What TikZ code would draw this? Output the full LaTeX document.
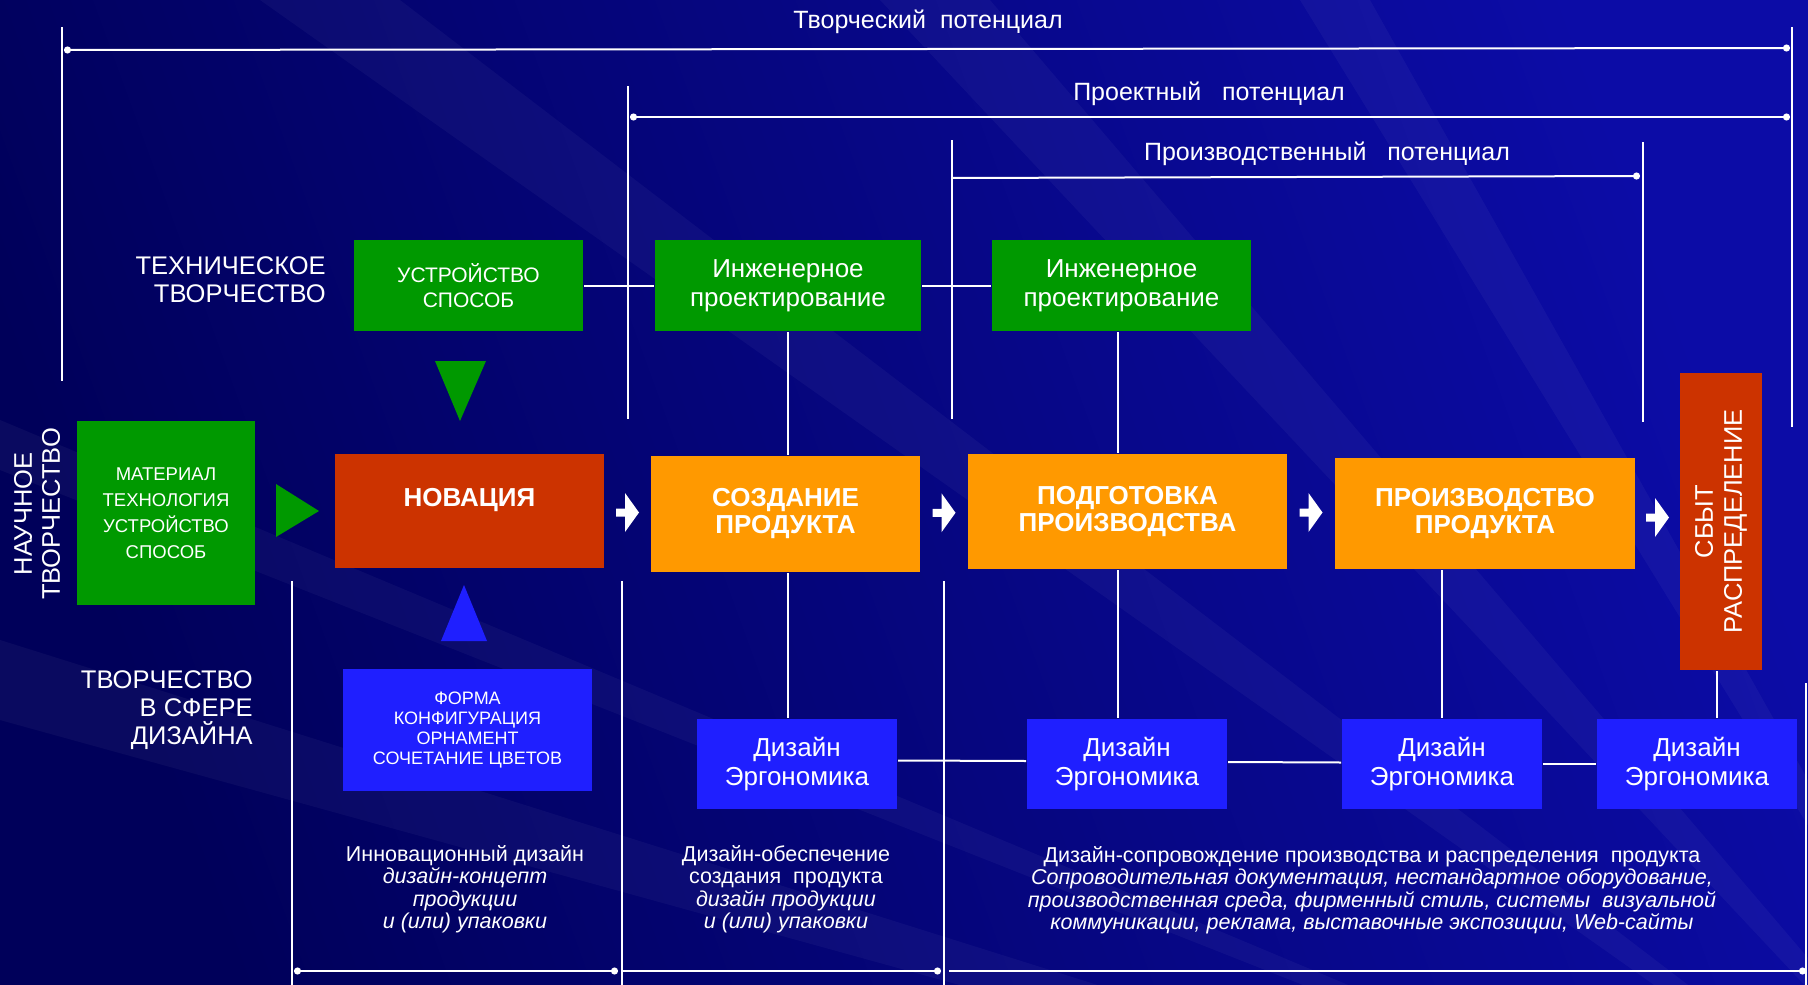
\documentclass[tikz,border=0pt]{standalone}
\usepackage{fontspec}
\setmainfont{Liberation Sans}
\usetikzlibrary{arrows.meta, calc}
\definecolor{cbgdark}{HTML}{00005A}
\definecolor{cbglight}{HTML}{0C0CA6}
\definecolor{cgreen}{HTML}{009900}
\definecolor{cred}{HTML}{CC3300}
\definecolor{corange}{HTML}{FF9900}
\definecolor{cblue}{HTML}{1F1FFF}
\tikzset{
  every picture/.style={line width=2pt},
  box/.style={fill=#1, text=white, align=center, inner sep=2pt},
  box/.default=cgreen,
  stage/.style={box=corange, font=\fontsize{26}{27}\selectfont\bfseries},
  designbox/.style={box=cblue, font=\fontsize{26}{29}\selectfont, minimum width=200pt, minimum height=90pt},
  label/.style={text=white, font=\fontsize{25.5}{28}\selectfont},
  note/.style={text=white, align=center, font=\fontsize{21.5}{22.5}\selectfont},
  link/.style={draw=white, line width=2pt},
  dimline/.style={draw=white, line width=2pt, {Circle[length=7pt]}-{Circle[length=7pt]}},
  dimend/.style={draw=white, line width=2pt, -{Circle[length=7pt]}},
  flowarrow/.pic={\fill[white] (-11.5,-4) -- (-2.5,-4) -- (-2.5,-19.5) -- (11.5,0)
      -- (-2.5,19.5) -- (-2.5,4) -- (-11.5,4) -- cycle;},
}
\begin{document}
\begin{tikzpicture}[x=1pt, y=-1pt]
  \useasboundingbox (0,0) rectangle (1808,985);
  % background
  \begin{scope}
    \clip (0,0) rectangle (1808,985);
    \shade[left color=cbgdark, right color=cbglight, shading angle=110] (0,0) rectangle (1808,985);
    \foreach \a/\b in {{0,640}/{0,720}, {0,420}/{0,470}, {260,0}/{400,0}, {880,0}/{990,0}, {1300,0}/{1370,0}}
      \fill[white, opacity=0.04] (2100,1300) -- (\a) -- (\b) -- cycle;
  \end{scope}

  % potential brackets
  \node[label, font=\fontsize{25}{28}\selectfont] (tvorpot) at (928,22) {Творческий\ \ потенциал};
  \node[label, font=\fontsize{25}{28}\selectfont] (proektpot) at (1209,94) {Проектный\ \ \ потенциал};
  \node[label, font=\fontsize{25}{28}\selectfont] (proizvpot) at (1327,154) {Производственный\ \ \ потенциал};
  \draw[dimline] (64,50) -- (1790,48);
  \draw[dimline] (630,117) -- (1790,117);
  \draw[dimend] (952,178) -- (1640,176);
  \draw[link] (62,27) -- (62,381);
  \draw[link] (628,86) -- (628,419);
  \draw[link] (952,140) -- (952,419);
  \draw[link] (1643,142) -- (1643,422);
  \draw[link] (1792,27) -- (1792,427);

  % side labels
  \node[label, anchor=east, align=right] (tekh) at (330,280) {ТЕХНИЧЕСКОЕ\\ТВОРЧЕСТВО};
  \node[label, align=center, rotate=90] (nauch) at (37,514) {НАУЧНОЕ\\ТВОРЧЕСТВО};
  \node[label, anchor=east, align=right] (dizsfera) at (257,710) {ТВОРЧЕСТВО\\В СФЕРЕ\\ДИЗАЙНА};

  % technical row
  \node[box, minimum width=229pt, minimum height=91pt, font=\fontsize{21}{25}\selectfont] (ustr) at (468.5,285.5) {УСТРОЙСТВО\\СПОСОБ};
  \node[box, minimum width=266pt, minimum height=91pt, font=\fontsize{26}{29}\selectfont] (inzh1) at (788,285.5) {Инженерное\\проектирование};
  \node[box, minimum width=259pt, minimum height=91pt, font=\fontsize{26}{29}\selectfont] (inzh2) at (1121.5,285.5) {Инженерное\\проектирование};
  \draw[link] (ustr.east) -- (inzh1.west);
  \draw[link] (inzh1.east) -- (inzh2.west);

  % main row
  \node[box, minimum width=178pt, minimum height=184pt, font=\fontsize{18.5}{26}\selectfont] (material) at (166,513) {МАТЕРИАЛ\\ТЕХНОЛОГИЯ\\УСТРОЙСТВО\\СПОСОБ};
  \node[stage, fill=cred, minimum width=269pt, minimum height=114pt] (novac) at (469.5,511) {НОВАЦИЯ\\ \mbox{}};
  \node[stage, minimum width=269pt, minimum height=116pt] (sozd) at (785.5,514) {СОЗДАНИЕ\\ПРОДУКТА};
  \node[stage, minimum width=319pt, minimum height=115pt] (podg) at (1127.5,511.5) {ПОДГОТОВКА\\ПРОИЗВОДСТВА};
  \node[stage, minimum width=300pt, minimum height=111pt] (proizv) at (1485,513.5) {ПРОИЗВОДСТВО\\ПРОДУКТА};
  \node[box=cred, rotate=90, minimum width=297pt, minimum height=82pt, font=\fontsize{25.5}{29}\selectfont] (sbyt) at (1721,521.5) {СБЫТ\\РАСПРЕДЕЛЕНИЕ};
  \pic at ($(novac.east)!0.5!(sozd.west)$) {flowarrow};
  \pic at ($(sozd.east)!0.5!(podg.west)$) {flowarrow};
  \pic at ($(podg.east)!0.5!(proizv.west)$) {flowarrow};
  \pic at ($(proizv.east)!0.5!(sbyt.north)$) {flowarrow};

  % triangles
  \fill[cgreen] (435,361) -- (486,361) -- (460,421) -- cycle;
  \fill[cgreen] (276,484) -- (276,537) -- (319,511) -- cycle;
  \fill[cblue] (441,641) -- (487,641) -- (464,585) -- cycle;

  % design row
  \node[box=cblue, minimum width=249pt, minimum height=122pt, font=\fontsize{18}{20}\selectfont] (forma) at (467.5,730) {ФОРМА\\КОНФИГУРАЦИЯ\\ОРНАМЕНТ\\СОЧЕТАНИЕ ЦВЕТОВ};
  \node[designbox] (diz1) at (797,764) {Дизайн\\Эргономика};
  \node[designbox] (diz2) at (1127,764) {Дизайн\\Эргономика};
  \node[designbox] (diz3) at (1442,764) {Дизайн\\Эргономика};
  \node[designbox] (diz4) at (1697,764) {Дизайн\\Эргономика};
  \draw[link] ([yshift=3.5pt]diz1.east) -- ([yshift=3pt]diz2.west);
  \draw[link] ([yshift=2pt]diz2.east) -- ([yshift=1.5pt]diz3.west);
  \draw[link] (diz3.east) -- (diz4.west);

  % vertical links
  \draw[link] (inzh1.south) -- (inzh1.south |- sozd.north);
  \draw[link] (inzh1.south |- sozd.south) -- (inzh1.south |- diz1.north);
  \draw[link] ([xshift=-4pt]inzh2.south) -- ([xshift=-4pt]inzh2.south |- podg.north);
  \draw[link] ([xshift=-4pt]inzh2.south |- podg.south) -- ([xshift=-4pt]inzh2.south |- diz2.north);
  \draw[link] (diz3.north |- proizv.south) -- (diz3.north);
  \draw[link] ([xshift=-4pt]sbyt.west) -- ([xshift=-4pt]sbyt.west |- diz4.north);

  % lower brackets
  \draw[link] (292,581) -- (292,985);
  \draw[link] (622,581) -- (622,985);
  \draw[link] (944,581) -- (944,985);
  \draw[link] (1806,683) -- (1806,985);
  \draw[dimline] (294,971) -- (618,971);
  \draw[dimend] (622,971) -- (941,971);
  \draw[dimend] (949,971) -- (1806,971);

  % notes
  \node[note] (innov) at (465,889) {Инновационный дизайн\\\textit{дизайн-концепт}\\\textit{продукции}\\\textit{и (или) упаковки}};
  \node[note] (obesp) at (786,889) {Дизайн-обеспечение\\создания\ \ продукта\\\textit{дизайн продукции}\\\textit{и (или) упаковки}};
  \node[note] (soprov) at (1372,890) {Дизайн-сопровождение производства и распределения\ \ продукта\\\textit{Сопроводительная документация, нестандартное оборудование,}\\\textit{производственная среда, фирменный стиль, системы\ \ визуальной}\\\textit{коммуникации, реклама, выставочные экспозиции, Web-сайты}};
\end{tikzpicture}
\end{document}
